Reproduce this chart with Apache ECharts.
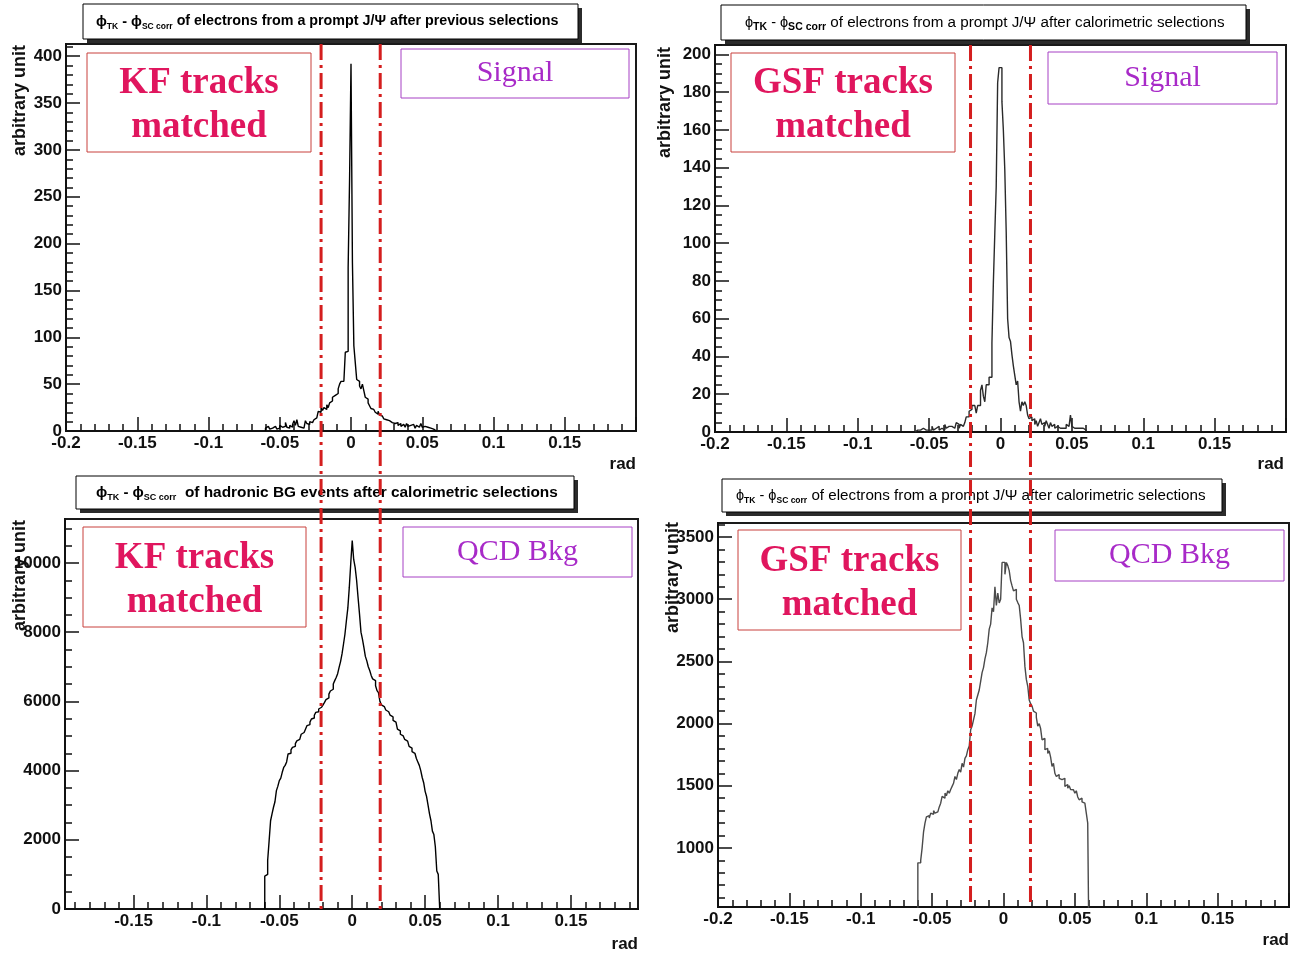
<!DOCTYPE html>
<html>
<head>
<meta charset="utf-8">
<script src="https://cdn.jsdelivr.net/npm/echarts@6/dist/echarts.min.js"></script>
<style>
  html, body { margin: 0; padding: 0; background: #fff; }
  #chart { width: 1299px; height: 956px; }
</style>
</head>
<body>
<div id="chart"></div>
<script>
// phi(track) - phi(supercluster, corrected) histograms, 0.001 rad bins from -0.06 rad
const BIN_LOW = -0.06;
const BIN_WIDTH = 0.001;

// KF tracks, prompt J/psi signal
const kfSignal = [
  3, 5, 4, 2, 3, 4, 5, 4, 2, 3,
  6, 4, 3, 5, 9, 4, 3, 6, 4, 7,
  11, 6, 12, 5, 4, 2, 3, 5, 11, 8,
  7, 10, 9, 11, 12, 14, 16, 21, 20, 25,
  22, 25, 23, 28, 25, 30, 32, 36, 38, 36,
  40, 45, 50, 53, 53, 53, 84, 85, 174, 269,
  392, 180, 91, 73, 55, 53, 48, 45, 50, 43,
  36, 34, 30, 27, 24, 23, 25, 20, 18, 21,
  17, 16, 14, 13, 12, 14, 11, 10, 9, 11,
  8, 7, 9, 6, 8, 5, 7, 6, 4, 8,
  5, 6, 4, 7, 5, 3, 6, 4, 5, 8,
  4, 5, 3, 4, 5, 3, 4, 2, 3, 0
];

// GSF tracks, prompt J/psi signal
const gsfSignal = [
  1, 1, 2, 1, 1, 2, 1, 1, 2, 1,
  2, 1, 3, 1, 2, 2, 3, 1, 2, 3,
  1, 4, 2, 3, 2, 3, 4, 2, 3, 5,
  4, 2, 4, 3, 4, 5, 8, 8, 11, 12,
  14, 14, 13, 10, 14, 14, 22, 25, 19, 16,
  25, 25, 29, 29, 47, 79, 105, 130, 185, 193,
  193, 175, 160, 139, 106, 60, 50, 48, 41, 35,
  30, 25, 27, 16, 11, 16, 14, 16, 14, 9,
  7, 8, 6, 7, 4, 6, 3, 5, 7, 4,
  5, 3, 6, 4, 2, 5, 3, 4, 2, 3,
  4, 2, 3, 2, 3, 2, 4, 3, 2, 9,
  3, 2, 3, 2, 3, 2, 1, 2, 1, 1
];

// KF tracks, hadronic (QCD) background
const kfQcd = [
  950, 1000, 1400, 1970, 2550, 2750, 2940, 3100, 3420, 3550,
  3710, 3780, 3950, 4090, 4150, 4250, 4480, 4500, 4600, 4670,
  4700, 4780, 4860, 4900, 4950, 5050, 5100, 5150, 5200, 5300,
  5330, 5400, 5490, 5520, 5600, 5680, 5700, 5780, 5830, 5850,
  5900, 5970, 6050, 6100, 6210, 6300, 6350, 6500, 6600, 6690,
  6800, 6980, 7150, 7370, 7650, 7940, 8330, 8700, 9300, 10000,
  10650, 10100, 9870, 9500, 9000, 8520, 8000, 7800, 7560, 7300,
  7170, 7000, 6890, 6750, 6650, 6600, 6450, 6310, 6250, 6000,
  5900, 5850, 5800, 5750, 5700, 5650, 5600, 5550, 5450, 5400,
  5350, 5200, 5150, 5050, 5000, 4950, 4900, 4850, 4800, 4700,
  4650, 4550, 4500, 4450, 4350, 4250, 4150, 4000, 3800, 3650,
  3400, 3250, 3000, 2750, 2550, 2250, 2150, 1800, 1100, 1000
];

// GSF tracks, hadronic (QCD) background
const gsfQcd = [
  880, 880, 900, 1000, 1130, 1200, 1250, 1260, 1240, 1280,
  1270, 1300, 1280, 1290, 1305, 1330, 1360, 1415, 1400, 1440,
  1420, 1460, 1440, 1470, 1495, 1520, 1575, 1550, 1600, 1630,
  1610, 1680, 1650, 1720, 1740, 1790, 1820, 1950, 1980, 2030,
  2080, 2190, 2230, 2270, 2340, 2410, 2450, 2520, 2570, 2650,
  2760, 2800, 2930, 2900, 3100, 2950, 3050, 2970, 3000, 3296,
  3296, 3200, 3296, 3270, 3230, 3150, 3107, 3067, 3080, 3000,
  2973, 2950, 2840, 2700, 2650, 2460, 2355, 2300, 2190, 2160,
  2140, 2100, 2085, 2050, 1980, 2000, 1960, 1870, 1880, 1790,
  1800, 1760, 1780, 1730, 1655, 1680, 1600, 1575, 1590, 1560,
  1550, 1540, 1560, 1495, 1510, 1480, 1500, 1470, 1468, 1480,
  1440, 1460, 1410, 1387, 1400, 1370, 1360, 1350, 1280, 1200
];

// Axis tick labels
const xLabelsFull = [-0.2, -0.15, -0.1, -0.05, 0, 0.05, 0.1, 0.15];
const xLabelsInner = [-0.15, -0.1, -0.05, 0, 0.05, 0.1, 0.15];
const kfSignalYLabels = [0, 50, 100, 150, 200, 250, 300, 350, 400];
const gsfSignalYLabels = [0, 20, 40, 60, 80, 100, 120, 140, 160, 180, 200];
const kfQcdYLabels = [0, 2000, 4000, 6000, 8000, 10000];
const gsfQcdYLabels = [1000, 1500, 2000, 2500, 3000, 3500];

// Matching-window cut positions (rad) for each column
const kfCuts = [-0.021, 0.0205];
const gsfCuts = [-0.021, 0.021];

const SANS = '"Liberation Sans", Arial, Helvetica, sans-serif';
const SERIF = '"Liberation Serif", "Times New Roman", serif';

const panels = [
  {
    values: kfSignal, lineColor: '#000',
    rect: { left: 66, top: 44, right: 636, bottom: 431 },
    x: [-0.2, 0.2], xLabels: xLabelsFull,
    y: [0, 413], yLabels: kfSignalYLabels, yMajor: 50, yMinor: 10,
    title: { box: [83, 4, 495, 35], pad: 13, bold: true, size: 14.3, phi: 14.5, sub: 8.5, after: ' ', text: 'of electrons from a prompt J/\u03A8 after previous selections' },
    track: { box: [87, 53, 224, 99], lines: ['KF tracks', 'matched'] },
    sample: { box: [401, 49, 228, 49], text: 'Signal' },
    yName: [20, 45], xName: [636, 464]
  },
  {
    values: gsfSignal, lineColor: '#2a2a2a',
    rect: { left: 715, top: 45, right: 1286, bottom: 432 },
    x: [-0.2, 0.2], xLabels: xLabelsFull,
    y: [0, 205], yLabels: gsfSignalYLabels, yMajor: 20, yMinor: 5,
    title: { box: [721, 5, 525, 35], pad: 24, bold: false, size: 15.2, phi: 14.5, sub: 10.5, after: ' ', text: 'of electrons from a prompt J/\u03A8 after calorimetric selections' },
    track: { box: [731, 53, 224, 99], lines: ['GSF tracks', 'matched'] },
    sample: { box: [1048, 52, 229, 52], text: 'Signal' },
    yName: [665, 47], xName: [1284, 464]
  },
  {
    values: kfQcd, lineColor: '#000',
    rect: { left: 65, top: 519, right: 638, bottom: 909 },
    x: [-0.197, 0.196], xLabels: xLabelsInner,
    y: [0, 11270], yLabels: kfQcdYLabels, yMajor: 2000, yMinor: 500,
    title: { box: [76, 476, 498, 33], pad: 20, bold: true, size: 15.4, phi: 15, sub: 9, after: '  ', text: 'of hadronic BG events after calorimetric selections' },
    track: { box: [83, 527, 223, 100], lines: ['KF tracks', 'matched'] },
    sample: { box: [403, 527, 229, 50], text: 'QCD Bkg' },
    yName: [20, 520], xName: [638, 944]
  },
  {
    values: gsfQcd, lineColor: '#4a4a4a',
    rect: { left: 718, top: 523, right: 1289, bottom: 907 },
    x: [-0.2, 0.2], xLabels: xLabelsFull,
    y: [525, 3613], yLabels: gsfQcdYLabels, yMajor: 500, yMinor: 100,
    title: { box: [722, 479, 500, 33], pad: 14, bold: false, size: 15.2, phi: 14.5, sub: 8.5, after: ' ', text: 'of electrons from a prompt J/\u03A8 after calorimetric selections' },
    track: { box: [738, 530, 223, 100], lines: ['GSF tracks', 'matched'] },
    sample: { box: [1055, 530, 229, 51], text: 'QCD Bkg' },
    yName: [673, 522], xName: [1289, 940]
  }
];

function multiples(min, max, step) {
  const out = [];
  for (let k = Math.ceil(min / step - 1e-6); k * step <= max + 1e-9; k++) {
    out.push(+(k * step).toFixed(6));
  }
  return out;
}

// Outline of a histogram: horizontal segment per bin, vertical steps between bins
function histogramOutline(values) {
  const pts = [[BIN_LOW, 0]];
  values.forEach((v, i) => {
    const x0 = +(BIN_LOW + i * BIN_WIDTH).toFixed(6);
    const x1 = +(BIN_LOW + (i + 1) * BIN_WIDTH).toFixed(6);
    pts.push([x0, v], [x1, v]);
  });
  pts.push([+(BIN_LOW + values.length * BIN_WIDTH).toFixed(6), 0]);
  return pts;
}

const fmt = v => String(+(+v).toFixed(4));
const tickColor = '#111';

const grids = [], xAxes = [], yAxes = [], series = [];
panels.forEach((p, i) => {
  const r = p.rect;
  grids.push({
    left: r.left, top: r.top, width: r.right - r.left, height: r.bottom - r.top,
    show: true, borderColor: '#1a1a1a', borderWidth: 2, backgroundColor: '#fff'
  });
  const labelStyle = { fontFamily: SANS, fontWeight: 'bold', fontSize: 17, color: tickColor };
  // major x ticks and labels
  xAxes.push({
    type: 'value', gridIndex: i, min: p.x[0], max: p.x[1], position: 'bottom',
    axisLine: { show: true, onZero: false, lineStyle: { color: tickColor, width: 2 } },
    axisTick: { show: true, inside: true, length: 14, customValues: multiples(p.x[0], p.x[1], 0.05), lineStyle: { color: tickColor, width: 1.5 } },
    axisLabel: Object.assign({ show: true, customValues: p.xLabels, formatter: fmt, margin: 4 }, labelStyle),
    splitLine: { show: false }
  });
  // minor x ticks
  xAxes.push({
    type: 'value', gridIndex: i, min: p.x[0], max: p.x[1], position: 'bottom',
    axisLine: { show: false, onZero: false },
    axisTick: { show: true, inside: true, length: 7, customValues: multiples(p.x[0], p.x[1], 0.01), lineStyle: { color: tickColor, width: 1.5 } },
    axisLabel: { show: false }, splitLine: { show: false }
  });
  // major y ticks and labels
  yAxes.push({
    type: 'value', gridIndex: i, min: p.y[0], max: p.y[1], position: 'left',
    axisLine: { show: true, onZero: false, lineStyle: { color: tickColor, width: 2 } },
    axisTick: { show: true, inside: true, length: 14, customValues: multiples(p.y[0], p.y[1], p.yMajor), lineStyle: { color: tickColor, width: 1.5 } },
    axisLabel: Object.assign({ show: true, customValues: p.yLabels, formatter: fmt, margin: 4 }, labelStyle),
    splitLine: { show: false }
  });
  // minor y ticks
  yAxes.push({
    type: 'value', gridIndex: i, min: p.y[0], max: p.y[1], position: 'left',
    axisLine: { show: false, onZero: false },
    axisTick: { show: true, inside: true, length: 7, customValues: multiples(p.y[0], p.y[1], p.yMinor), lineStyle: { color: tickColor, width: 1.5 } },
    axisLabel: { show: false }, splitLine: { show: false }
  });
  series.push({
    type: 'line', xAxisIndex: 2 * i, yAxisIndex: 2 * i,
    data: histogramOutline(p.values), showSymbol: false, symbol: 'none',
    clip: true, silent: true,
    lineStyle: { color: p.lineColor, width: 1.4 }
  });
});

const chart = echarts.init(document.getElementById('chart'));
chart.setOption({
  animation: false,
  backgroundColor: '#fff',
  grid: grids, xAxis: xAxes, yAxis: yAxes, series: series
});

// Annotation layer: title boxes, labels, axis titles and cut lines
const graphics = [];
panels.forEach((p, i) => {
  const t = p.title;
  const [bx, by, bw, bh] = t.box;
  graphics.push({ type: 'rect', shape: { x: bx + 4, y: by + 4, width: bw, height: bh }, style: { fill: '#2b2b2b' }, z: 10 });
  graphics.push({ type: 'rect', shape: { x: bx, y: by, width: bw, height: bh }, style: { fill: '#fff', stroke: '#000', lineWidth: 1 }, z: 11 });
  const w = t.bold ? 'bold' : 'normal';
  graphics.push({
    type: 'text', z: 12, x: bx + t.pad, y: by + bh / 2,
    style: {
      text: '{p|\u03D5}{s|TK}{p| - \u03D5}{s|SC corr}{t|' + t.after + t.text + '}',
      verticalAlign: 'middle', align: 'left',
      rich: {
        p: { fontFamily: SANS, fontSize: t.phi, fontWeight: w, lineHeight: 20, fill: '#000' },
        s: { fontFamily: SANS, fontSize: t.sub, fontWeight: 'bold', lineHeight: 10, verticalAlign: 'bottom', fill: '#000' },
        t: { fontFamily: SANS, fontSize: t.size, fontWeight: w, lineHeight: 20, fill: '#000' }
      }
    }
  });

  const [tx, ty, tw, th] = p.track.box;
  graphics.push({ type: 'rect', shape: { x: tx, y: ty, width: tw, height: th }, style: { fill: '#fff', stroke: '#c8403c', lineWidth: 1 }, z: 10 });
  p.track.lines.forEach((line, k) => {
    graphics.push({
      type: 'text', z: 11, x: tx + tw / 2, y: ty + th * (0.31 + 0.44 * k),
      style: { text: line, align: 'center', verticalAlign: 'middle', fontFamily: SERIF, fontWeight: 'bold', fontSize: 37, fill: '#e0165e' }
    });
  });

  const [sx, sy, sw, sh] = p.sample.box;
  graphics.push({ type: 'rect', shape: { x: sx, y: sy, width: sw, height: sh }, style: { fill: '#fff', stroke: '#a640c4', lineWidth: 1 }, z: 10 });
  graphics.push({
    type: 'text', z: 11, x: sx + sw / 2, y: sy + sh / 2,
    style: { text: p.sample.text, align: 'center', verticalAlign: 'middle', fontFamily: SERIF, fontSize: 30, fill: '#a82ac8' }
  });

  graphics.push({
    type: 'text', z: 11, x: p.yName[0], y: p.yName[1], rotation: Math.PI / 2,
    style: { text: 'arbitrary unit', align: 'right', verticalAlign: 'middle', fontFamily: SANS, fontWeight: 'bold', fontSize: 18, fill: '#111' }
  });
  graphics.push({
    type: 'text', z: 11, x: p.xName[0], y: p.xName[1],
    style: { text: 'rad', align: 'right', verticalAlign: 'middle', fontFamily: SANS, fontWeight: 'bold', fontSize: 17, fill: '#111' }
  });
});

// Cut lines run through both rows of each column
function cutLines(cuts, topPanel, bottomPanel, xAxisIndex) {
  cuts.forEach(c => {
    const px = chart.convertToPixel({ xAxisIndex: xAxisIndex }, c);
    graphics.push({
      type: 'line', z: 20,
      shape: { x1: px, y1: topPanel.rect.top, x2: px, y2: bottomPanel.rect.bottom },
      style: { stroke: '#d41e1e', lineWidth: 3, lineDash: [16, 5, 3, 5] }
    });
  });
}
cutLines(kfCuts, panels[0], panels[2], 0);
cutLines(gsfCuts, panels[1], panels[3], 2);

chart.setOption({ graphic: graphics });
</script>
</body>
</html>
